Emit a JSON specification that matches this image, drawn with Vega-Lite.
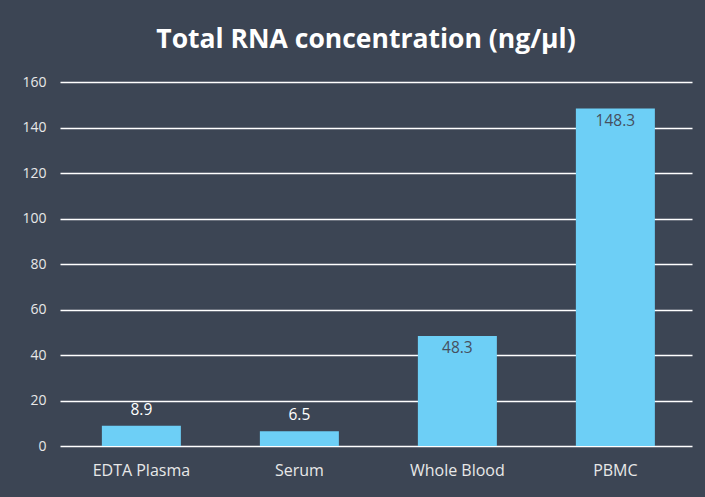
{
  "$schema": "https://vega.github.io/schema/vega-lite/v6.json",
  "autosize": {"type": "none"},
  "width": 632,
  "height": 364,
  "padding": {"left": 60, "top": 82, "right": 13, "bottom": 51},
  "background": "#3c4554",
  "title": {
    "text": "Total RNA concentration (ng/µl)",
    "anchor": "middle",
    "frame": "group",
    "dx": -10,
    "offset": 22,
    "font": "Open Sans",
    "fontSize": 26.5,
    "fontWeight": "bold",
    "color": "#ffffff"
  },
  "config": {
    "view": {"stroke": null},
    "axis": {
      "labelFont": "Open Sans",
      "labelColor": "#e8e8e8",
      "domain": false,
      "ticks": false,
      "title": null
    }
  },
  "data": {
    "values": [
      {"sample": "EDTA Plasma", "value": 8.9},
      {"sample": "Serum", "value": 6.5},
      {"sample": "Whole Blood", "value": 48.3},
      {"sample": "PBMC", "value": 148.3}
    ]
  },
  "encoding": {
    "x": {
      "field": "sample",
      "type": "nominal",
      "sort": null,
      "scale": {"paddingInner": 0.5, "paddingOuter": 0.25, "align": 0.53},
      "axis": {"labelAngle": 0, "labelPadding": 16, "labelFontSize": 16, "grid": false}
    },
    "y": {
      "field": "value",
      "type": "quantitative",
      "scale": {"domain": [0, 160]},
      "axis": {
        "values": [0, 20, 40, 60, 80, 100, 120, 140, 160],
        "labelPadding": 14,
        "labelFontSize": 14,
        "grid": true,
        "gridColor": "#ffffff",
        "gridWidth": 1.3,
        "gridOpacity": 1
      }
    }
  },
  "layer": [
    {"mark": {"type": "bar", "color": "#6dcff6"}},
    {
      "transform": [{"filter": "datum.value < 20"}],
      "mark": {"type": "text", "baseline": "bottom", "dy": -8, "font": "Open Sans", "fontSize": 15.5, "color": "#ffffff"},
      "encoding": {"text": {"field": "value", "type": "quantitative", "format": ".1f"}}
    },
    {
      "transform": [{"filter": "datum.value >= 20"}],
      "mark": {"type": "text", "baseline": "top", "dy": 5, "font": "Open Sans", "fontSize": 15.5, "color": "#46505f"},
      "encoding": {"text": {"field": "value", "type": "quantitative", "format": ".1f"}}
    }
  ]
}
